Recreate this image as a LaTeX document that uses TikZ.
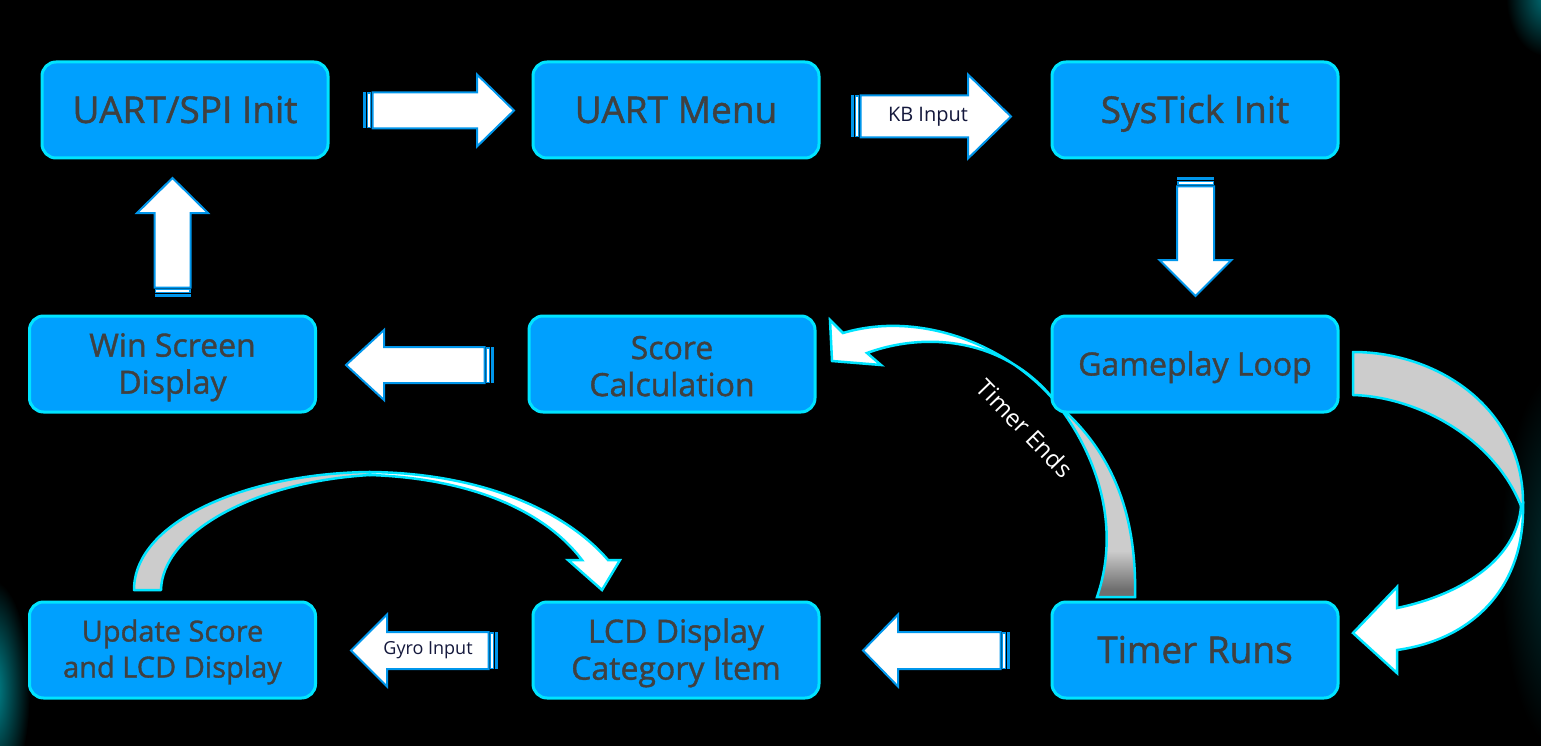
\documentclass[tikz,border=0pt]{standalone}
\usepackage{fontspec}
\setmainfont{Open Sans}
\newfontfamily\boxfont{Open Sans}[FakeBold=1.2]
\usetikzlibrary{calc}
\definecolor{boxfill}{RGB}{0,160,254}
\definecolor{boxline}{RGB}{0,228,255}
\definecolor{arrline}{RGB}{0,150,235}
\definecolor{txt}{RGB}{64,64,64}
\definecolor{lbltxt}{RGB}{20,24,60}
\definecolor{ltg}{RGB}{204,204,204}
\definecolor{dkg}{RGB}{110,110,110}
\definecolor{glow}{RGB}{0,140,150}
\pgfdeclareverticalshading{tgray}{100bp}{color(0bp)=(dkg); color(27bp)=(dkg); color(37bp)=(ltg); color(100bp)=(ltg)}
\newcommand{\sarrow}[6]{%
  \begin{scope}[shift={#1},rotate=#2]
    \fill[arrline] (0,{-#4}) rectangle (3,{#4});
    \draw[arrline,fill=white,line width=1.5pt] (4.5,{-#4+0.75}) rectangle (7.5,{#4-0.75});
    \draw[arrline,fill=white,line width=2pt,line join=miter]
      (9.5,{-#4}) -- ({#3-#6},{-#4}) -- ({#3-#6},{-#5}) -- (#3,0)
      -- ({#3-#6},{#5}) -- ({#3-#6},{#4}) -- (9.5,{#4}) -- cycle;
  \end{scope}}
\newcommand{\topstrut}[1]{\rule{0pt}{#1}}
\begin{document}
\begin{tikzpicture}[x=1pt,y=-1pt,
  box/.style={rectangle, rounded corners=14pt, fill=boxfill, draw=boxline,
    line width=3pt, minimum width=286pt, minimum height=96pt, text=txt,
    align=center, inner sep=0pt},
  bigtxt/.style={font=\boxfont\fontsize{37}{40}\selectfont, text height=30pt, text depth=4pt},
  medone/.style={font=\boxfont\fontsize{32}{37}\selectfont, text height=27pt, text depth=4pt},
  medtxt/.style={font=\boxfont\fontsize{32}{37}\selectfont},
  smltxt/.style={font=\boxfont\fontsize{29}{36}\selectfont},
  lbl/.style={text=lbltxt, inner sep=0pt},
  curveback/.style={draw=boxline, line width=2.5pt, fill=ltg, line join=round},
  curvefront/.style={draw=boxline, line width=2.5pt, fill=white, line join=miter},
]
\useasboundingbox (0,0) rectangle (1541,746);
\fill[black] (0,0) rectangle (1541,746);
% glows
\begin{scope}
  \clip (0,0) rectangle (1541,746);
  \shade[inner color=glow, outer color=black] (-8,690) ellipse (38 and 110);
  \shade[inner color=glow!80!black, outer color=black] (1546,-4) ellipse (40 and 60);
  \shade[inner color=glow!35!black, outer color=black] (1560,560) ellipse (60 and 190);
\end{scope}

% curved arrows (behind boxes)
% Gameplay Loop -> Timer Runs
\path[curveback] (1353,352) .. controls (1440,352) and (1523,410) .. (1523,503)
  -- (1521,506) .. controls (1495,440) and (1420,397) .. (1353,395) -- cycle;
\path[curvefront] (1523,504) .. controls (1525,590) and (1470,640) .. (1397,650)
  -- (1397,673) -- (1353,633) -- (1397,587) -- (1397,608)
  .. controls (1460,595) and (1517,560) .. (1521,506) -- cycle;
% Timer Runs -> Score Calculation (Timer Ends)
\shade[shading=tgray, draw=boxline, line width=2.5pt]
  (1058,405) .. controls (1110,450) and (1137,510) .. (1135,597)
  -- (1097,597) .. controls (1120,530) and (1100,460) .. (1058,405) -- cycle;
\path[curvefront] (1058,405) .. controls (1010,345) and (920,310) .. (843,333)
  -- (830,320) -- (832,361) -- (881,365) -- (867,353)
  .. controls (930,330) and (1010,340) .. (1058,405) -- cycle;
% Update Score -> LCD Display
\path[curveback] (134,590) .. controls (134,520) and (250,473) .. (370,472)
  -- (370,475) .. controls (250,482) and (162,535) .. (161,590) -- cycle;
\path[curvefront] (370,472) .. controls (480,473) and (565,510) .. (608,560)
  -- (620,560) -- (602,590) -- (568,560) -- (582,560)
  .. controls (540,505) and (460,478) .. (370,475) -- cycle;

% boxes
\node[box,bigtxt] (uart)  at (185,110)   {UART/SPI Init};
\node[box,bigtxt] (menu)  at (676,110)   {UART Menu};
\node[box,bigtxt] (tick)  at (1195,110)  {SysTick Init};
\node[box,medone] (game)  at (1195,364)  {Gameplay Loop};
\node[box,medtxt] (score) at (672,364)   {\topstrut{27.5pt}Score\\Calculation};
\node[box,medtxt] (win)   at (172.5,364) {\topstrut{30pt}Win Screen\\Display};
\node[box,bigtxt] (timer) at (1195,650)  {Timer Runs};
\node[box,medtxt] (lcd)   at (676,650)   {\topstrut{30pt}LCD Display\\Category Item};
\node[box,smltxt] (upd)   at (172.5,650) {\topstrut{26pt}Update Score\\and LCD Display};

% striped block arrows
\sarrow{(363,110.5)}{0}{151}{18}{36}{37}
\sarrow{(851,116.5)}{0}{160}{21}{42}{43}
\sarrow{(1195.5,177)}{-90}{119}{18.5}{36}{36}
\sarrow{(494,365)}{180}{148}{18}{35}{38}
\sarrow{(172.5,297)}{90}{119}{18}{35.5}{35}
\sarrow{(1010,650.5)}{180}{147}{18.5}{36}{35}
\sarrow{(498,650.5)}{180}{147}{18.5}{36}{36}

% labels
\node[lbl, font=\fontsize{20}{22}\selectfont] (kb) at (928,116.5) {KB Input};
\node[lbl, font=\fontsize{18}{20}\selectfont] (gyro) at (428,650.5) {Gyro Input};
\node[font=\fontsize{24}{26}\selectfont, text=white, rotate=-46, inner sep=0pt] (tend) at (1025,428) {Timer Ends};
\end{tikzpicture}
\end{document}
